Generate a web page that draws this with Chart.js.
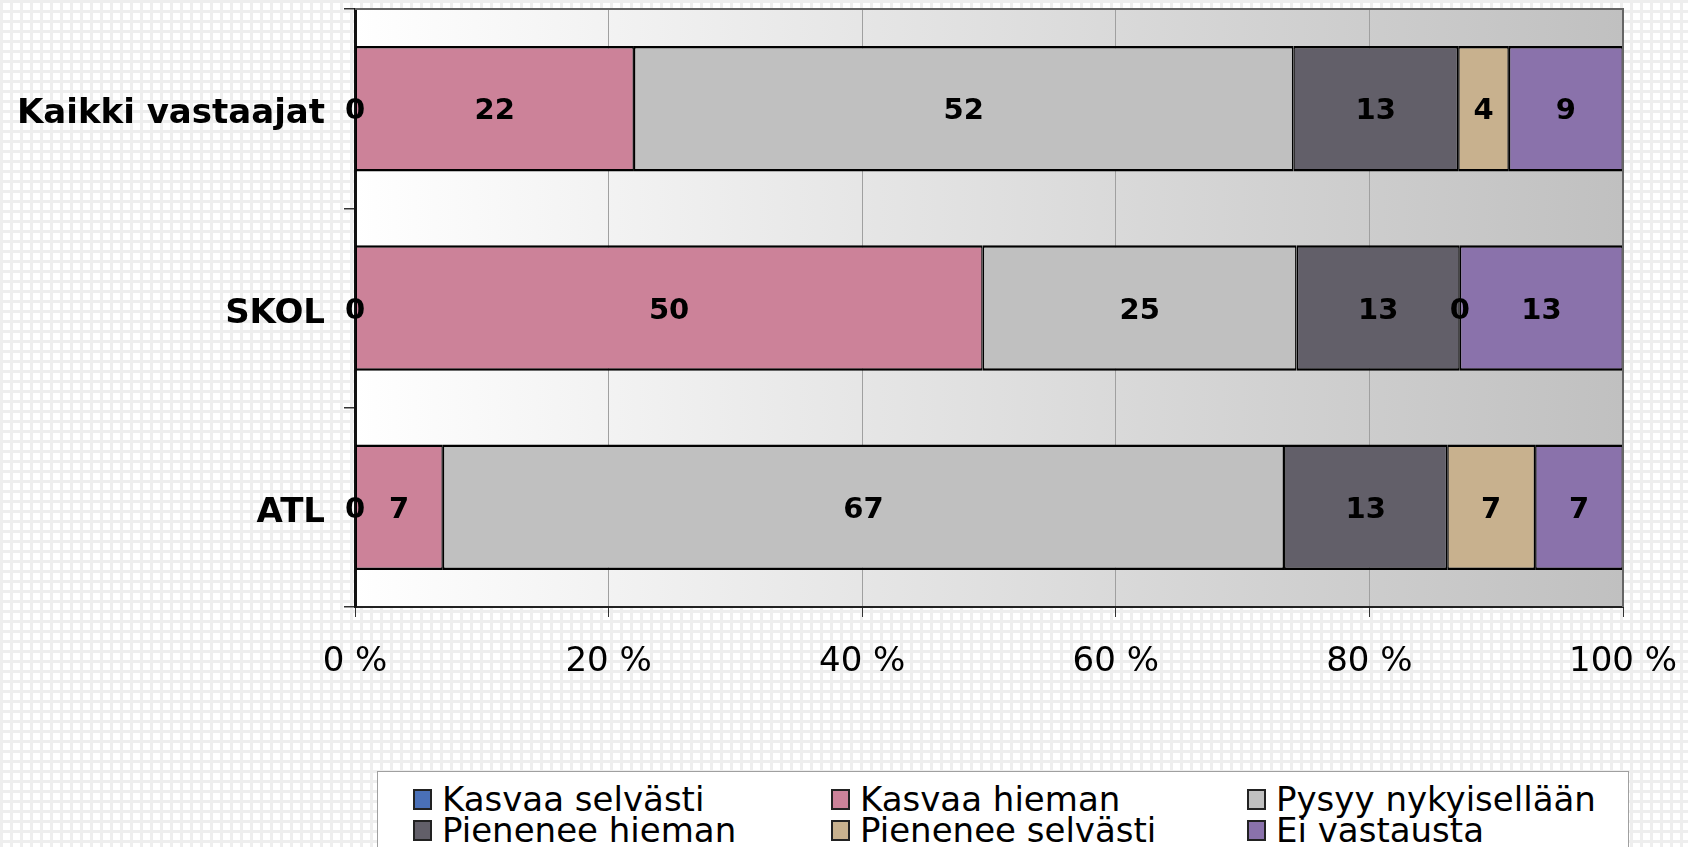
<!DOCTYPE html>
<html>
<head>
<meta charset="utf-8">
<script src="https://cdn.jsdelivr.net/npm/chart.js@4/dist/chart.umd.min.js"></script>
<style>
  body {
    margin: 0;
    overflow: hidden;
    background-color: #fff;
    background-image: linear-gradient(#eeeeee 3px, transparent 3px), linear-gradient(90deg, #eeeeee 3px, transparent 3px);
    background-size: 10px 10px;
  }
  #wrap { position: relative; width: 1688px; height: 847px; }
  #chart { position: absolute; left: 0; top: 0; }
  #legend {
    position: absolute; left: 377px; top: 771px; width: 1250px; height: 100px;
    background: #fff; border: 1px solid #a0a0a0;
    font-family: "DejaVu Sans", sans-serif; font-size: 34px; color: #000;
  }
  .item { position: absolute; height: 30px; line-height: 30px; display: flex; align-items: center; white-space: nowrap; }
  .box { width: 15px; height: 17px; border: 2px solid #222; margin-right: 10px; }
</style>
</head>
<body>
<div id="wrap">
  <canvas id="chart" width="1688" height="847"></canvas>
  <div id="legend"></div>
</div>
<script>
var categories = ["Kaikki vastaajat", "SKOL", "ATL"];
var seriesNames = ["Kasvaa selvästi", "Kasvaa hieman", "Pysyy nykyisellään", "Pienenee hieman", "Pienenee selvästi", "Ei vastausta"];
var kasvaaSelvasti = [0, 0, 0];
var kasvaaHieman = [22, 50, 7];
var pysyy = [52, 25, 67];
var pieneneeHieman = [13, 13, 13];
var pieneneeSelvasti = [4, 0, 7];
var eiVastausta = [9, 13, 7];
var xTicks = [0, 20, 40, 60, 80, 100];

var colors = ["#4a70b8", "#cc8299", "#c0c0c0", "#625f69", "#c8b18e", "#8a72ab"];
var series = [kasvaaSelvasti, kasvaaHieman, pysyy, pieneneeHieman, pieneneeSelvasti, eiVastausta];

// rivisummat, jotta palkit skaalautuvat 100 %:iin
var totals = categories.map(function(c, i){
    var s = 0;
    series.forEach(function(arr){ s += arr[i]; });
    return s;
});

var datasets = series.map(function(arr, k){
    return {
        label: seriesNames[k],
        data: arr.map(function(v, i){ return v / totals[i] * 100; }),
        raw: arr,
        backgroundColor: colors[k],
        borderColor: "#000",
        borderWidth: {top: 2.5, bottom: 2.5, left: 1.5, right: 1.5},
        borderSkipped: false,
        barPercentage: 0.63,
        categoryPercentage: 1
    };
});

var plotBg = {
    id: "plotBg",
    beforeDraw: function(chart){
        var a = chart.chartArea, ctx = chart.ctx;
        var g = ctx.createLinearGradient(a.left, 0, a.right, 0);
        g.addColorStop(0, "#ffffff");
        g.addColorStop(1, "#c0c0c0");
        ctx.save();
        ctx.fillStyle = g;
        ctx.fillRect(a.left, a.top, a.right - a.left, a.bottom - a.top);
        ctx.restore();
    },
    afterDraw: function(chart){
        var a = chart.chartArea, ctx = chart.ctx;
        ctx.save();
        ctx.strokeStyle = "#666";
        ctx.lineWidth = 2;
        ctx.beginPath();
        ctx.moveTo(a.left, a.top);
        ctx.lineTo(a.right, a.top);
        ctx.lineTo(a.right, a.bottom);
        ctx.stroke();
        ctx.restore();
    }
};

var valueLabels = {
    id: "valueLabels",
    afterDatasetsDraw: function(chart){
        var ctx = chart.ctx;
        ctx.save();
        ctx.font = "bold 29px 'DejaVu Sans'";
        ctx.fillStyle = "#000";
        ctx.textAlign = "center";
        ctx.textBaseline = "middle";
        chart.data.datasets.forEach(function(ds, k){
            if (k == 0) return;
            chart.getDatasetMeta(k).data.forEach(function(el, i){
                ctx.fillText(String(ds.raw[i]), (el.x + el.base) / 2, el.y + 3);
            });
        });
        // nollat vasempaan reunaan (Kasvaa selvästi)
        chart.getDatasetMeta(0).data.forEach(function(el, i){
            ctx.fillText(String(datasets[0].raw[i]), el.x, el.y + 3);
        });
        ctx.restore();
    }
};

new Chart(document.getElementById("chart"), {
    type: "bar",
    data: { labels: categories, datasets: datasets },
    options: {
        indexAxis: "y",
        responsive: false,
        animation: false,
        devicePixelRatio: 1,
        layout: { padding: { left: 0, top: 9, right: 65, bottom: 0 } },
        plugins: { legend: { display: false }, tooltip: { enabled: false } },
        scales: {
            x: {
                stacked: true,
                min: 0,
                max: 100,
                afterBuildTicks: function(s){ s.ticks = xTicks.map(function(v){ return {value: v}; }); },
                afterFit: function(s){ s.height = 240; s.paddingLeft = 0; s.paddingRight = 0; },
                grid: { color: "#a0a0a0", lineWidth: 1, tickColor: "#333", tickLength: 10 },
                border: { color: "#222", width: 2 },
                ticks: {
                    padding: 25,
                    color: "#000",
                    font: { family: "DejaVu Sans", size: 34 },
                    callback: function(v){ return v + " %"; }
                }
            },
            y: {
                stacked: true,
                afterFit: function(s){ s.width = 355; s.paddingTop = 0; s.paddingBottom = 0; },
                grid: { drawOnChartArea: false, color: "#333", lineWidth: 1.5, tickLength: 11 },
                border: { color: "#111", width: 3 },
                ticks: {
                    padding: 19,
                    labelOffset: 6,
                    color: "#000",
                    font: { family: "DejaVu Sans", size: 34, weight: "bold" }
                }
            }
        }
    },
    plugins: [plotBg, valueLabels]
});

// selite kolmeen sarakkeeseen
var legendCols = [35, 453, 869];
var legendRows = [12, 43];
var lg = document.getElementById("legend");
seriesNames.forEach(function(name, k){
    var d = document.createElement("div");
    d.className = "item";
    d.style.left = legendCols[k % 3] + "px";
    d.style.top = legendRows[Math.floor(k / 3)] + "px";
    var b = document.createElement("span");
    b.className = "box";
    b.style.background = colors[k];
    d.appendChild(b);
    d.appendChild(document.createTextNode(name));
    lg.appendChild(d);
});
</script>
</body>
</html>
